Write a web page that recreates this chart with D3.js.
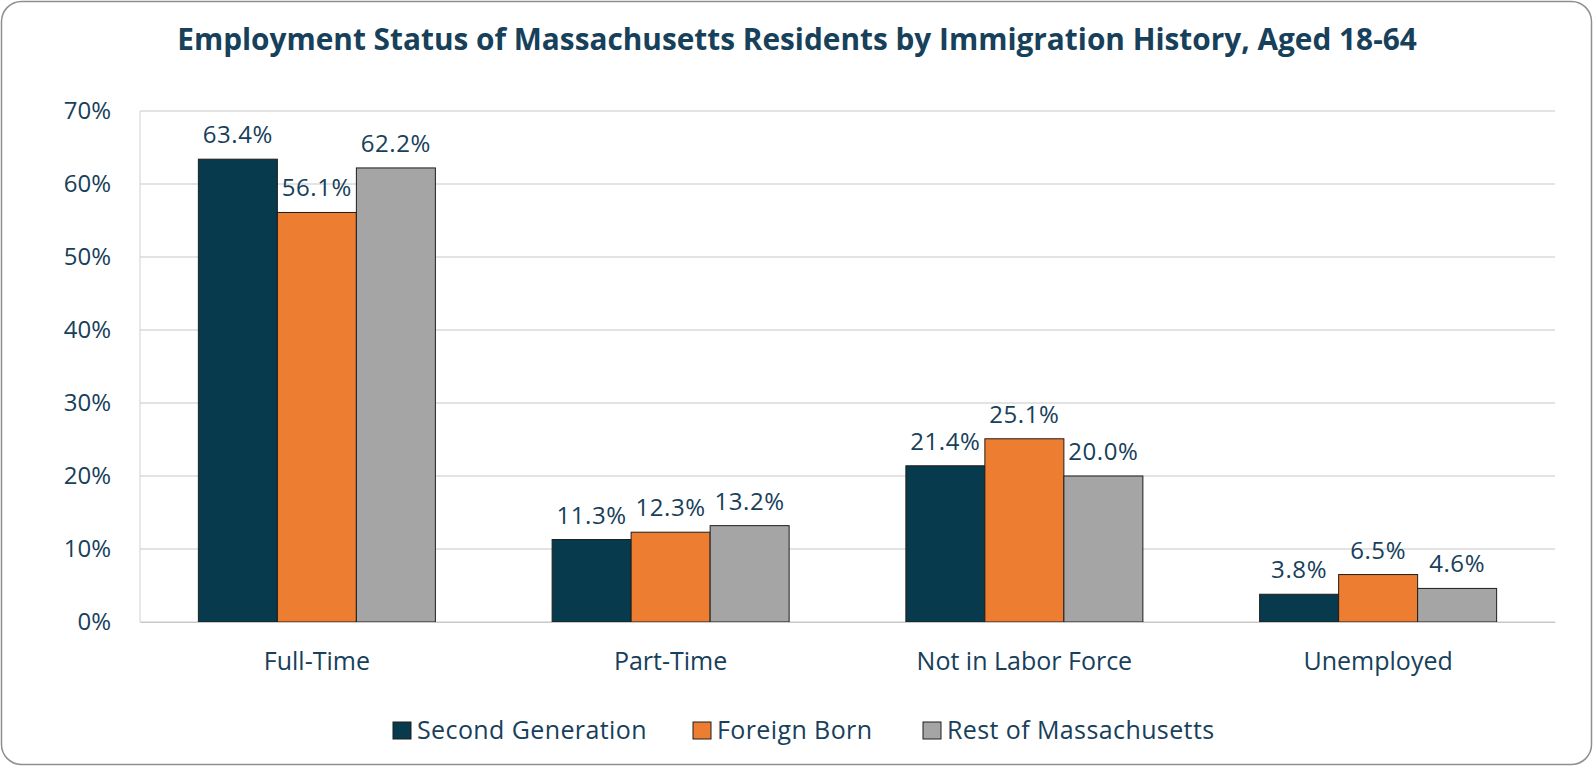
<!DOCTYPE html>
<html>
<head>
<meta charset="utf-8">
<script src="https://cdnjs.cloudflare.com/ajax/libs/d3/7.8.5/d3.min.js"></script>
<style>
  body { margin: 0; background: #fff; }
  svg text { font-family: "Open Sans", sans-serif; }
</style>
</head>
<body>
<svg id="vis-svg" width="1593" height="766"></svg>
<script>
var width  = 1593;
var height = 766;
var margin = {top: 111, bottom: 144, left: 140, right: 38};

// data
const categories = ["Full-Time", "Part-Time", "Not in Labor Force", "Unemployed"];
const seriesNames = ["Second Generation", "Foreign Born", "Rest of Massachusetts"];
const secondGeneration = [63.4, 11.3, 21.4, 3.8];
const foreignBorn = [56.1, 12.3, 25.1, 6.5];
const restOfMass = [62.2, 13.2, 20.0, 4.6];
const yTicks = [0, 10, 20, 30, 40, 50, 60, 70];
const colors = ["#063a4c", "#ed7d31", "#a5a5a5"];

const textColor = "#17405a";
const graphHeight = height - margin.top - margin.bottom;
const graphWidth = width - margin.left - margin.right;

const svg = d3.select("#vis-svg");

// rounded outer frame
svg.append("rect")
  .attr("x", 1.5).attr("y", 1.5)
  .attr("width", width - 3).attr("height", height - 3)
  .attr("rx", 20)
  .attr("fill", "#fff")
  .attr("stroke", "#8f8f8f")
  .attr("stroke-width", 1.5);

svg.append("text")
  .attr("x", 797).attr("y", 50)
  .attr("text-anchor", "middle")
  .attr("fill", textColor)
  .attr("font-size", 29.8)
  .attr("font-weight", "bold")
  .text("Employment Status of Massachusetts Residents by Immigration History, Aged 18-64");

const graph = svg.append("g").attr("transform", `translate(${margin.left},${margin.top})`);

const y = d3.scaleLinear().domain([0, 70]).range([graphHeight, 0]);
const x0 = d3.scaleBand().domain(categories).range([0, graphWidth]).paddingInner(0.33).paddingOuter(0.165);
const x1 = d3.scaleBand().domain(seriesNames).range([0, x0.bandwidth()]);

// gridlines
graph.append("g")
  .selectAll("line").data(yTicks).enter()
  .append("line")
  .attr("x1", 0).attr("x2", graphWidth)
  .attr("y1", d => y(d)).attr("y2", d => y(d))
  .attr("stroke", "#c8c8c8").attr("stroke-width", 1.2);

// left border of plot area
graph.append("line")
  .attr("x1", 0).attr("x2", 0).attr("y1", 0).attr("y2", graphHeight)
  .attr("stroke", "#d0d0d0");

// y axis labels
const yAxis = d3.axisLeft(y).tickValues(yTicks).tickFormat(d => d + "%").tickSize(0).tickPadding(29);
const yg = graph.append("g").call(yAxis);
yg.select(".domain").remove();
yg.selectAll("text").attr("font-size", 24).attr("fill", textColor).attr("font-family", "Open Sans");

const allSeries = [secondGeneration, foreignBorn, restOfMass];
const rows = [];
categories.forEach((c, i) => {
  seriesNames.forEach((s, j) => rows.push({cat: c, series: s, value: allSeries[j][i], color: colors[j]}));
});

const groups = graph.selectAll(".bar").data(rows).enter().append("g");
groups.append("rect")
  .attr("x", d => x0(d.cat) + x1(d.series))
  .attr("y", d => y(d.value))
  .attr("width", x1.bandwidth())
  .attr("height", d => graphHeight - y(d.value))
  .attr("fill", d => d.color)
  .attr("stroke", "#1e1e1e")
  .attr("stroke-width", 1);

groups.append("text")
  .attr("x", d => x0(d.cat) + x1(d.series) + x1.bandwidth() / 2)
  .attr("y", d => y(d.value) - 16)
  .attr("text-anchor", "middle")
  .attr("font-size", 24)
  .attr("letter-spacing", 0.6)
  .attr("fill", textColor)
  .text(d => d.value.toFixed(1) + "%");

// category axis
const xAxis = d3.axisBottom(x0).tickSize(0).tickPadding(30);
const xg = graph.append("g").attr("transform", `translate(0,${graphHeight})`).call(xAxis);
xg.select(".domain").attr("stroke", "#c8c8c8").attr("stroke-width", 1.2);
xg.selectAll("text").attr("font-size", 25).attr("fill", textColor).attr("font-family", "Open Sans");

// legend
const legendX = [417, 717, 947];
const legend = svg.append("g").selectAll("g").data(seriesNames).enter().append("g")
  .attr("transform", (d, i) => `translate(${legendX[i]},739)`);
legend.append("rect")
  .attr("x", -24).attr("y", -17).attr("width", 18).attr("height", 17)
  .attr("fill", (d, i) => colors[i])
  .attr("stroke", "#1e1e1e").attr("stroke-width", 1);
legend.append("text")
  .attr("x", 0).attr("y", 0)
  .attr("font-size", 25)
  .attr("letter-spacing", 0.4)
  .attr("fill", textColor)
  .text(d => d);
</script>
</body>
</html>
